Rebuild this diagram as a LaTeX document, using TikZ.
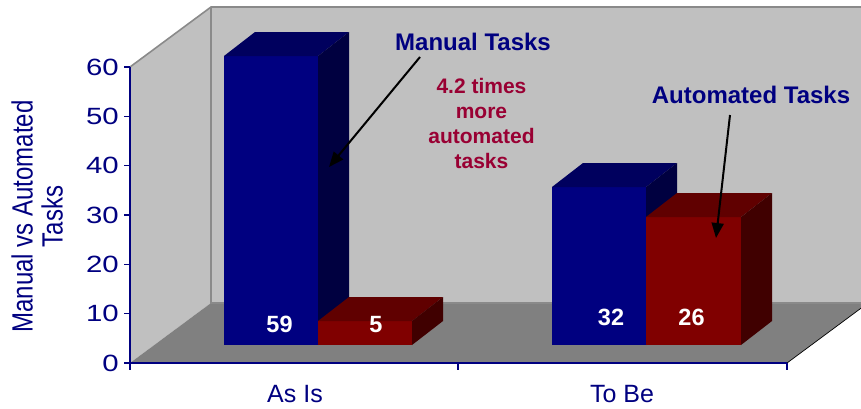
\documentclass[tikz,border=0pt]{standalone}
\usepackage{fontspec}
\setmainfont{Liberation Sans}
\usetikzlibrary{arrows.meta}
\definecolor{axisnavy}{HTML}{000080}
\definecolor{bluefront}{HTML}{000080}
\definecolor{bluetop}{HTML}{00005E}
\definecolor{blueside}{HTML}{000040}
\definecolor{redfront}{HTML}{800000}
\definecolor{redtop}{HTML}{600000}
\definecolor{redside}{HTML}{400000}
\definecolor{wallgray}{HTML}{C0C0C0}
\definecolor{floorgray}{HTML}{808080}
\definecolor{edgegray}{HTML}{8A8A8A}
\definecolor{notecol}{HTML}{990033}
\newcommand\chartbar[6]{%
  \fill[#4] (#1,345) rectangle (#2,#3);
  \fill[#5] (#1,#3) -- (#1+31,#3-24) -- (#2+31,#3-24) -- (#2,#3) -- cycle;
  \fill[#6] (#2,#3) -- (#2+31,#3-24) -- (#2+31,321) -- (#2,345) -- cycle;
}
\tikzset{
  wall/.style={fill=wallgray},
  floorface/.style={fill=floorgray},
  wedge/.style={draw=edgegray, line width=1.6pt},
  axisline/.style={draw=axisnavy, line width=1.1pt},
  ticklabel/.style={anchor=east, inner sep=0pt, text=axisnavy, font=\fontsize{23.5}{24}\selectfont},
  catlabel/.style={anchor=base, inner sep=0pt, text=axisnavy, font=\fontsize{25}{26}\selectfont},
  vallabel/.style={anchor=base, inner sep=0pt, text=white, font=\fontsize{23.5}{24}\selectfont\bfseries},
  callout/.style={anchor=base, inner sep=0pt, text=axisnavy, font=\fontsize{24}{26}\selectfont\bfseries},
  note/.style={anchor=north, inner sep=0pt, align=center, text=notecol, font=\fontsize{21}{25}\selectfont\bfseries},
  pointer/.style={draw=black, line width=2pt, -{Triangle[length=15pt,width=12pt]}}
}
\begin{document}
\begin{tikzpicture}[x=1pt,y=-1pt]
\useasboundingbox (0,0) rectangle (861,408);
\begin{scope}
\clip (0,0) rectangle (861,408);
% walls and floor
\fill[wall] (211,7) rectangle (861,303);
\fill[wall] (130,67) -- (211,7) -- (211,303) -- (130,363) -- cycle;
\fill[floorface] (130,363) -- (211,303) -- (868,303) -- (787,363) -- cycle;
\draw[wedge] (130,67) -- (211,7) -- (862,7);
\draw[wedge] (211,7) -- (211,303) -- (862,303);
\draw[draw=black, line width=0.7pt] (787,363) -- (868,303);
% bars
\chartbar{224}{318}{56}{bluefront}{bluetop}{blueside}
\chartbar{318}{412}{321}{redfront}{redtop}{redside}
\chartbar{552}{646}{187}{bluefront}{bluetop}{blueside}
\chartbar{646}{741}{217}{redfront}{redtop}{redside}
% axes
\draw[axisline] (130,67) -- (130,363) -- (787,363);
\foreach \k in {0,...,6} {
  \draw[axisline] (124,{363-49.333*\k}) -- (130,{363-49.333*\k});
}
\foreach \xx in {130,458,787} {
  \draw[axisline] (\xx,363) -- (\xx,370);
}
\end{scope}
% tick labels
\foreach \k/\v in {0/0,1/10,2/20,3/30,4/40,5/50,6/60} {
  \node[ticklabel] (tick\k) at (119,{363-49.333*\k}) {\scalebox{1.25}[1]{\v}};
}
% axis title
\node[rotate=90, inner sep=0pt, text=axisnavy, font=\fontsize{24}{24}\selectfont] (ytitle) at (41.5,216.5)
  {\scalebox{1}[1.22]{\begin{tabular}{@{}c@{}}Manual vs Automated\\Tasks\end{tabular}}};
% category labels
\node[catlabel] (asis) at (295,402) {As Is};
\node[catlabel] (tobe) at (622,402.5) {To Be};
% value labels
\node[vallabel] (v59) at (279.5,332) {59};
\node[vallabel] (v5) at (376,332) {5};
\node[vallabel] (v32) at (611,325) {32};
\node[vallabel] (v26) at (691.5,325) {26};
% callouts
\node[callout] (manual) at (473,50) {Manual Tasks};
\node[callout] (automated) at (751,103) {Automated Tasks};
\node[note] (times) at (481.5,78) {4.2 times\\more\\automated\\tasks};
\coordinate (manfrom) at (420,57);
\coordinate (manto) at (329,167);
\coordinate (autfrom) at (730,115);
\coordinate (autto) at (716,238);
\draw[pointer] (manfrom) -- (manto);
\draw[pointer] (autfrom) -- (autto);
\end{tikzpicture}
\end{document}
